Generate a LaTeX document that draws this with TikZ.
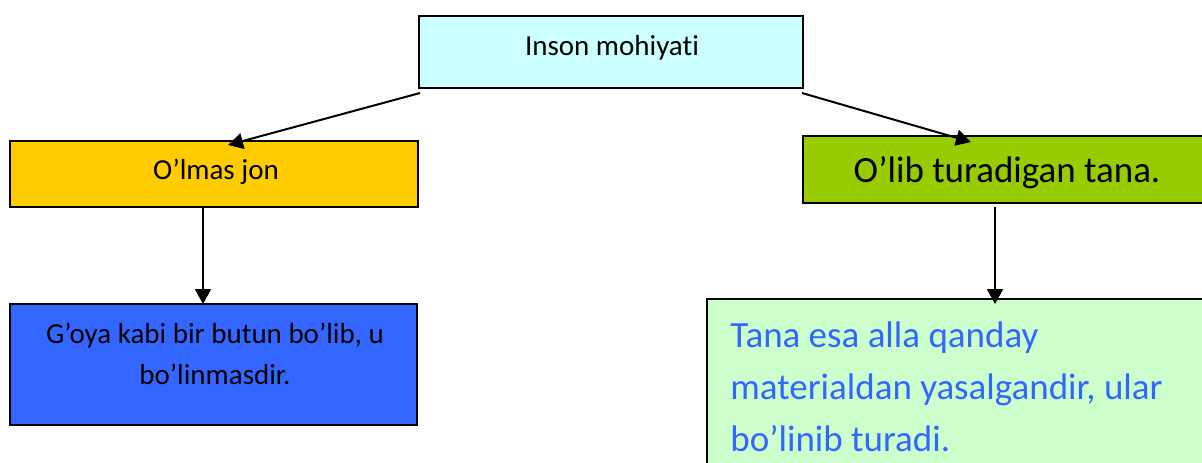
\documentclass[tikz,border=0pt]{standalone}
\usepackage{fontspec}
\setmainfont{Carlito}[Ligatures={NoCommon}]
\usetikzlibrary{arrows.meta}
\definecolor{cyanbox}{HTML}{CCFFFF}
\definecolor{yellowbox}{HTML}{FFCC00}
\definecolor{greenbox}{HTML}{99CC00}
\definecolor{bluebox}{HTML}{3366FF}
\definecolor{lgreenbox}{HTML}{CCFFCC}
\definecolor{bluetext}{HTML}{3366FF}
\tikzset{
  boxstyle/.style={draw=black, line width=1pt, rectangle, inner sep=0pt, outer sep=0pt, anchor=north west},
  smalltext/.style={font=\fontsize{14.5}{20.5}\selectfont, inner sep=0pt, anchor=base, align=center},
  bigtext/.style={font=\fontsize{18.5}{26}\selectfont, inner sep=0pt},
  arr/.style={line width=1pt, -{Triangle[length=7.5pt,width=8pt]}}
}
\begin{document}
\begin{tikzpicture}[x=0.5pt,y=-0.5pt]
\useasboundingbox (0,0) rectangle (1202,462);
\clip (0,0) rectangle (1202,462);
% boxes
\node[boxstyle, fill=cyanbox, minimum width=192pt, minimum height=36pt] (top) at (419,16) {};
\node[boxstyle, fill=yellowbox, minimum width=204pt, minimum height=33pt] (yellow) at (10,141) {};
\node[boxstyle, fill=bluebox, minimum width=203.5pt, minimum height=60.5pt] (blue) at (10,304) {};
\node[boxstyle, fill=greenbox, minimum width=204pt, minimum height=33.5pt] (green) at (803,136) {};
\node[boxstyle, fill=lgreenbox, minimum width=270pt, minimum height=110pt] (lgreen) at (707,299) {};
% texts (multi-line nodes are anchored at the baseline of their last line)
\node[smalltext] (t1) at (612,55) {Inson mohiyati};
\node[smalltext] (t2) at (216,179) {O’lmas jon};
\node[smalltext] (t3) at (215,384) {G’oya kabi bir butun bo’lib, u\\bo’linmasdir.};
\node[bigtext, anchor=base] (t4) at (1007,182) {O’lib turadigan tana.};
\node[bigtext, anchor=base west, align=left, text=bluetext] (t5) at (730,451) {Tana esa alla qanday\\materialdan yasalgandir, ular\\bo’linib turadi.};
% connectors
\coordinate (ys) at ([xshift=-5.5pt]yellow.south);
\coordinate (gs) at ([xshift=-6pt,yshift=-2pt]green.south);
\draw[arr] ([xshift=0.5pt,yshift=-2.5pt]top.south west) -- ([xshift=7pt,yshift=-2pt]yellow.north);
\draw[arr] ([xshift=-0.5pt,yshift=-2.5pt]top.south east) -- ([xshift=-18pt,yshift=-3pt]green.north);
\draw[arr] (ys) -- (ys |- blue.north);
\draw[arr] (gs) -- ([yshift=-2.5pt]gs |- lgreen.north);
\end{tikzpicture}
\end{document}
